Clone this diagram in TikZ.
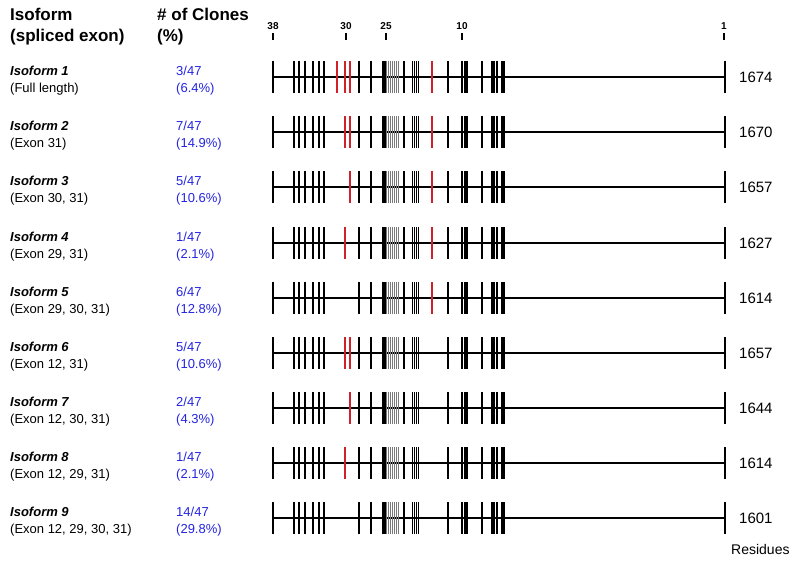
\documentclass[tikz,border=0pt]{standalone}
\usepackage{fontspec}
\setmainfont{Liberation Sans}
\usetikzlibrary{positioning}
\definecolor{exonred}{HTML}{D0202A}
\definecolor{clone}{HTML}{2424E0}
\definecolor{exongrey}{HTML}{7A7A7A}
\newcommand{\blackexons}{273,294,299,305,313,319,324,359,371,383,385,404,448,462,465,467,482,492,494,497,502,504,725}
\newcommand{\thinexons}{412.5,414.5,416.5,418.5}
\newcommand{\greyexons}{386.5,388.5,390.5,392.5,394.5,396.5,398.5}
\def\nored{none}

\begin{document}
\begin{tikzpicture}[x=1pt,y=-1pt,every node/.style={inner sep=0pt,anchor=west},
      head/.style={font=\fontsize{17}{21}\selectfont\bfseries,align=left},
      isoname/.style={font=\fontsize{13}{17}\selectfont,align=left},
      clones/.style={isoname,text=clone},
      residues/.style={font=\fontsize{15}{18}\selectfont},
      tick/.style={font=\fontsize{10}{12}\selectfont\bfseries,anchor=center},
      backbone/.style={line width=1.8pt},
      exon/.style={line width=2pt},
      thinexon/.style={line width=1.3pt},
      greyexon/.style={line width=1pt,exongrey},
      redexon/.style={line width=2pt,exonred}]
  \useasboundingbox (0,0) rectangle (800,564);
  % headers
  \node[head] (hiso) at (10,26.5) {Isoform\\(spliced exon)};
  \node[head] (hclones) at (157,26.5) {\# of Clones\\(\%)};
  % exon numbers
  \foreach \x/\t in {273/38,346/30,386/25,462/10,724/1}{
    \node[tick] (t\t) at (\x,26.5) {\t};
    \draw[exon] (\x,33) -- (\x,40);
  }
  % isoforms
  \foreach \y/\n/\sub/\c/\p/\len/\reds [count=\i] in {
      77/1/{Full length}/3/6.4/1674/{337,345,350,432},
      132/2/{Exon 31}/7/14.9/1670/{345,350,432},
      187/3/{Exon 30, 31}/5/10.6/1657/{350,432},
      243/4/{Exon 29, 31}/1/2.1/1627/{345,432},
      298/5/{Exon 29, 30, 31}/6/12.8/1614/{432},
      353/6/{Exon 12, 31}/5/10.6/1657/{345,350},
      408/7/{Exon 12, 30, 31}/2/4.3/1644/{350},
      463/8/{Exon 12, 29, 31}/1/2.1/1614/{345},
      518/9/{Exon 12, 29, 30, 31}/14/29.8/1601/none}{
    \node[isoname] (iso\i) at (10,\y+3.5) {\textbf{\textit{Isoform \n}}\\(\sub)};
    \node[clones] (cl\i) at (176,\y+3.5) {\c/47\\(\p\%)};
    \draw[backbone] (273,\y) -- (725,\y);
    \foreach \x in \blackexons {\draw[exon] (\x,\y-16) -- (\x,\y+16);}
    \foreach \x in \thinexons {\draw[thinexon] (\x,\y-16) -- (\x,\y+16);}
    \foreach \x in \greyexons {\draw[greyexon] (\x,\y-16) -- (\x,\y+16);}
    \edef\redlist{\reds}
    \ifx\redlist\nored\else
      \foreach \x in \reds {\draw[redexon] (\x,\y-16) -- (\x,\y+16);}
    \fi
    \node[residues] (len\i) at (739,\y) {\len};
  }
  \node[font=\fontsize{14}{17}\selectfont] (res) at (731,549) {Residues};
\end{tikzpicture}
\end{document}
